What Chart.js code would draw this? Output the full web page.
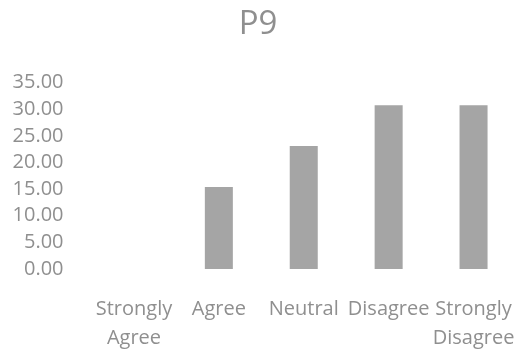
<!DOCTYPE html>
<html>
<head>
<meta charset="utf-8">
<script src="https://cdn.jsdelivr.net/npm/chart.js@4/dist/chart.umd.min.js"></script>
<style>
  html, body { margin: 0; padding: 0; background: #fff; }
  #wrap { width: 520px; height: 351px; }
</style>
</head>
<body>
<div id="wrap"><canvas id="p9Chart"></canvas></div>
<script>
// survey answers for P9 (percent of respondents)
const categories = [['Strongly', 'Agree'], 'Agree', 'Neutral', 'Disagree', ['Strongly', 'Disagree']];
const percents = [0.00, 15.38, 23.08, 30.77, 30.77];
const yMax = 35;
const yStep = 5;

const textGrey = '#8f8f8f';
const barGrey = '#a5a5a5';
const fontFamily = '"Open Sans", "Liberation Sans", sans-serif';

const ctx = document.getElementById('p9Chart').getContext('2d');
new Chart(ctx, {
    type: 'bar',
    data: {
        labels: categories,
        datasets: [{
            data: percents,
            backgroundColor: barGrey,
            borderWidth: 0,
            categoryPercentage: 1.0,
            barPercentage: 0.33
        }]
    },
    options: {
        responsive: true,
        maintainAspectRatio: false,
        animation: false,
        layout: { padding: { top: 0, right: 4, bottom: 0, left: 0 } },
        plugins: {
            legend: { display: false },
            tooltip: { enabled: false },
            title: {
                display: true,
                text: 'P9',
                color: textGrey,
                font: { family: fontFamily, size: 33, weight: 'normal' },
                padding: { top: 5, bottom: 38 }
            }
        },
        scales: {
            x: {
                grid: { display: false, drawTicks: false },
                border: { display: false },
                afterFit: scale => {
                    // fixed axis band, and no extra room kept for the outer labels
                    scale.height = 82;
                    scale.paddingLeft = 0;
                    scale.paddingRight = 0;
                },
                ticks: {
                    color: textGrey,
                    font: { family: fontFamily, size: 20, lineHeight: 1.45 },
                    padding: 26,
                    maxRotation: 0,
                    minRotation: 0,
                    autoSkip: false
                }
            },
            y: {
                min: 0,
                max: yMax,
                grid: { display: false, drawTicks: false },
                border: { display: false },
                afterFit: scale => { scale.width = 91.5; },
                ticks: {
                    stepSize: yStep,
                    autoSkip: false,
                    color: textGrey,
                    padding: 28,
                    font: { family: fontFamily, size: 20 },
                    callback: v => v.toFixed(2)
                }
            }
        }
    }
});
</script>
</body>
</html>
